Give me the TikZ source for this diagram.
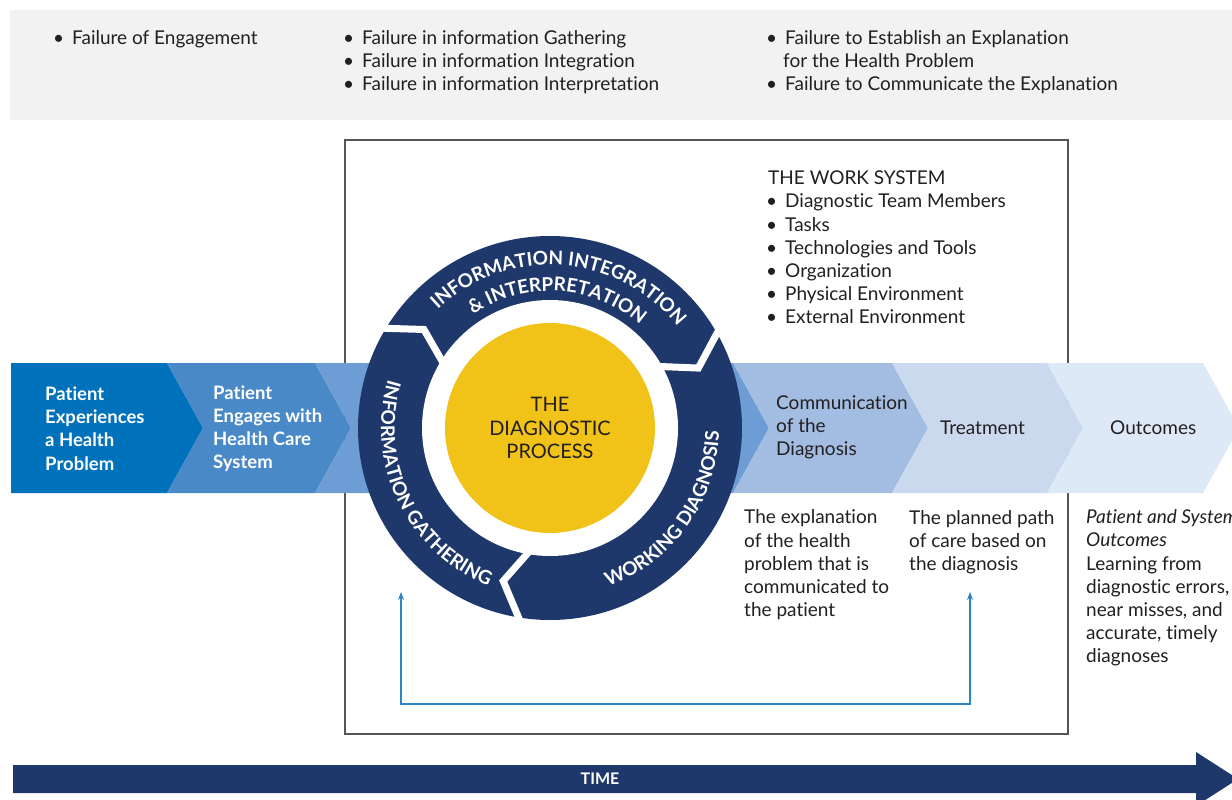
\documentclass[tikz,border=0pt]{standalone}
\usepackage{fontspec}
\setmainfont{Lato}[RawFeature={-liga}]
\usetikzlibrary{decorations.text,arrows.meta}
\definecolor{navy}{HTML}{1F386B}
\definecolor{ink}{HTML}{231F20}
\definecolor{gold}{HTML}{F1C319}
\definecolor{topgray}{HTML}{F2F2F2}
\definecolor{boxgray}{HTML}{555555}
\definecolor{fbblue}{HTML}{2D84C6}
\definecolor{cA}{HTML}{0072BC}
\definecolor{cB}{HTML}{4A89C8}
\definecolor{cC}{HTML}{6E9DD6}
\definecolor{cD}{HTML}{A3BCE1}
\definecolor{cE}{HTML}{CBD9EF}
\definecolor{cF}{HTML}{DEE9F7}
\newcommand\bulitem{\makebox[19pt][l]{\textbullet}}
\newcommand\ringfont{\bfseries\fontsize{19}{19}\selectfont}
\begin{document}
\begin{tikzpicture}[x=1pt,y=1pt,
  txt/.style={font=\fontsize{19}{23.2}\selectfont, text=ink, inner sep=0pt, align=left, anchor=west},
  wlab/.style={font=\bfseries\fontsize{18.5}{23.2}\selectfont, text=white, inner sep=0pt, align=left, anchor=west},
  dlab/.style={font=\fontsize{19}{23.2}\selectfont, text=ink, inner sep=0pt, align=left, anchor=west},
  ctr/.style={font=\fontsize{20}{23.2}\selectfont, text=ink, inner sep=0pt, align=center},
  timelab/.style={font=\bfseries\fontsize{16}{16}\selectfont, text=white, inner sep=0pt},
  boxline/.style={draw=boxgray, line width=1.1pt},
  gapline/.style={draw=white, line width=7pt, line join=miter},
  fb/.style={draw=fbblue, line width=1.2pt, {Stealth[length=8pt,width=6pt]}-{Stealth[length=8pt,width=6pt]}},
  ringtext/.style={decorate, decoration={text along path, text align=center, text={#1}}}
]
\useasboundingbox (0,0) rectangle (1232,-800);
\begin{scope}
\clip (0,0) rectangle (1232,-800);
\fill[white] (0,0) rectangle (1232,-800);

% top band
\fill[topgray] (10,-10) rectangle (1240,-120);
\node[txt] (f1) at (53,-39) {\bulitem Failure of Engagement};
\node[txt] (f2) at (343,-62) {\bulitem Failure in information Gathering\\ \bulitem Failure in information Integration\\ \bulitem Failure in information Interpretation};
\node[txt] (f3) at (766,-62) {\bulitem Failure to Establish an Explanation\\ \hspace*{17pt}for the Health Problem\\ \bulitem Failure to Communicate the Explanation};

% work system box
\draw[boxline] (345,-140) rectangle (1068,-734);
\node[txt] (ws) at (766,-247.5) {\hspace*{2pt}THE WORK SYSTEM\\ \bulitem Diagnostic Team Members\\ \bulitem Tasks\\ \bulitem Technologies and Tools\\ \bulitem Organization\\ \bulitem Physical Environment\\ \bulitem External Environment};

% chevron band
\fill[cA] (11,-363) -- (167,-363) -- (203,-428) -- (167,-493) -- (11,-493) -- cycle;
\fill[cB] (167,-363) -- (315,-363) -- (351,-428) -- (315,-493) -- (167,-493) -- (203,-428) -- cycle;
\fill[cC] (315,-363) -- (733,-363) -- (769,-428) -- (733,-493) -- (315,-493) -- (351,-428) -- cycle;
\fill[cD] (733,-363) -- (892,-363) -- (928,-428) -- (892,-493) -- (733,-493) -- (769,-428) -- cycle;
\fill[cE] (892,-363) -- (1047,-363) -- (1083,-428) -- (1047,-493) -- (892,-493) -- (928,-428) -- cycle;
\fill[cF] (1047,-363) -- (1203,-363) -- (1239,-428) -- (1203,-493) -- (1047,-493) -- (1083,-428) -- cycle;

\node[wlab] (pe) at (45,-428.5) {Patient\\Experiences\\a Health\\Problem};
\node[wlab] (pg) at (213,-428.5) {Patient\\Engages with\\Health Care\\System};
\node[dlab] (com) at (776,-427) {Communication\\of the\\Diagnosis};
\node[dlab] (tr) at (940,-428) {Treatment};
\node[dlab] (oc) at (1110,-428) {Outcomes};

% the diagnostic process circle
\begin{scope}[shift={(550,-428)}]
\fill[navy] (0,0) circle[radius=192pt];
\fill[white] (0,0) circle[radius=128pt];
\fill[gold] (0,0) circle[radius=105pt];
\foreach \g/\t in {150/142,31/22,-98/-107}
  \draw[gapline] (\g:200pt) -- (\t:160pt) -- (\g:120pt);
\path[ringtext={|\ringfont\color{white}|INFORMATION INTEGRATION}] (146:163pt) arc[start angle=146, end angle=26, radius=163pt];
\path[ringtext={|\ringfont\color{white}|{\&} INTERPRETATION}] (146:137pt) arc[start angle=146, end angle=27, radius=137pt];
\path[ringtext={|\ringfont\color{white}|INFORMATION GATHERING}] (150:169pt) arc[start angle=150, end angle=262, radius=169pt];
\path[ringtext={|\ringfont\color{white}|WORKING DIAGNOSIS}] (-95:169pt) arc[start angle=-95, end angle=24, radius=169pt];
\node[ctr] (dp) at (0,0) {THE\\DIAGNOSTIC\\PROCESS};
\end{scope}

% texts under the band
\node[txt] (expl) at (744,-565) {The explanation\\of the health\\problem that is\\communicated to\\the patient};
\node[txt] (plan) at (909,-542) {The planned path\\of care based on\\the diagnosis};
\node[txt] (outc) at (1086,-588) {\textit{Patient and System}\\\textit{Outcomes}\\Learning from\\diagnostic errors,\\near misses, and\\accurate, timely\\diagnoses};

% feedback connector
\coordinate (fbL) at (401,-592);
\coordinate (fbR) at (970,-592);
\coordinate (fbB) at (0,-704);
\draw[fb] (fbL) -- (fbL |- fbB) -- (fbR |- fbB) -- (fbR);

% time arrow
\fill[navy] (13,-765) -- (1196,-765) -- (1196,-752) -- (1238,-779) -- (1196,-806) -- (1196,-793) -- (13,-793) -- cycle;
\node[timelab] (time) at (600,-779) {TIME};
\end{scope}
\end{tikzpicture}
\end{document}
